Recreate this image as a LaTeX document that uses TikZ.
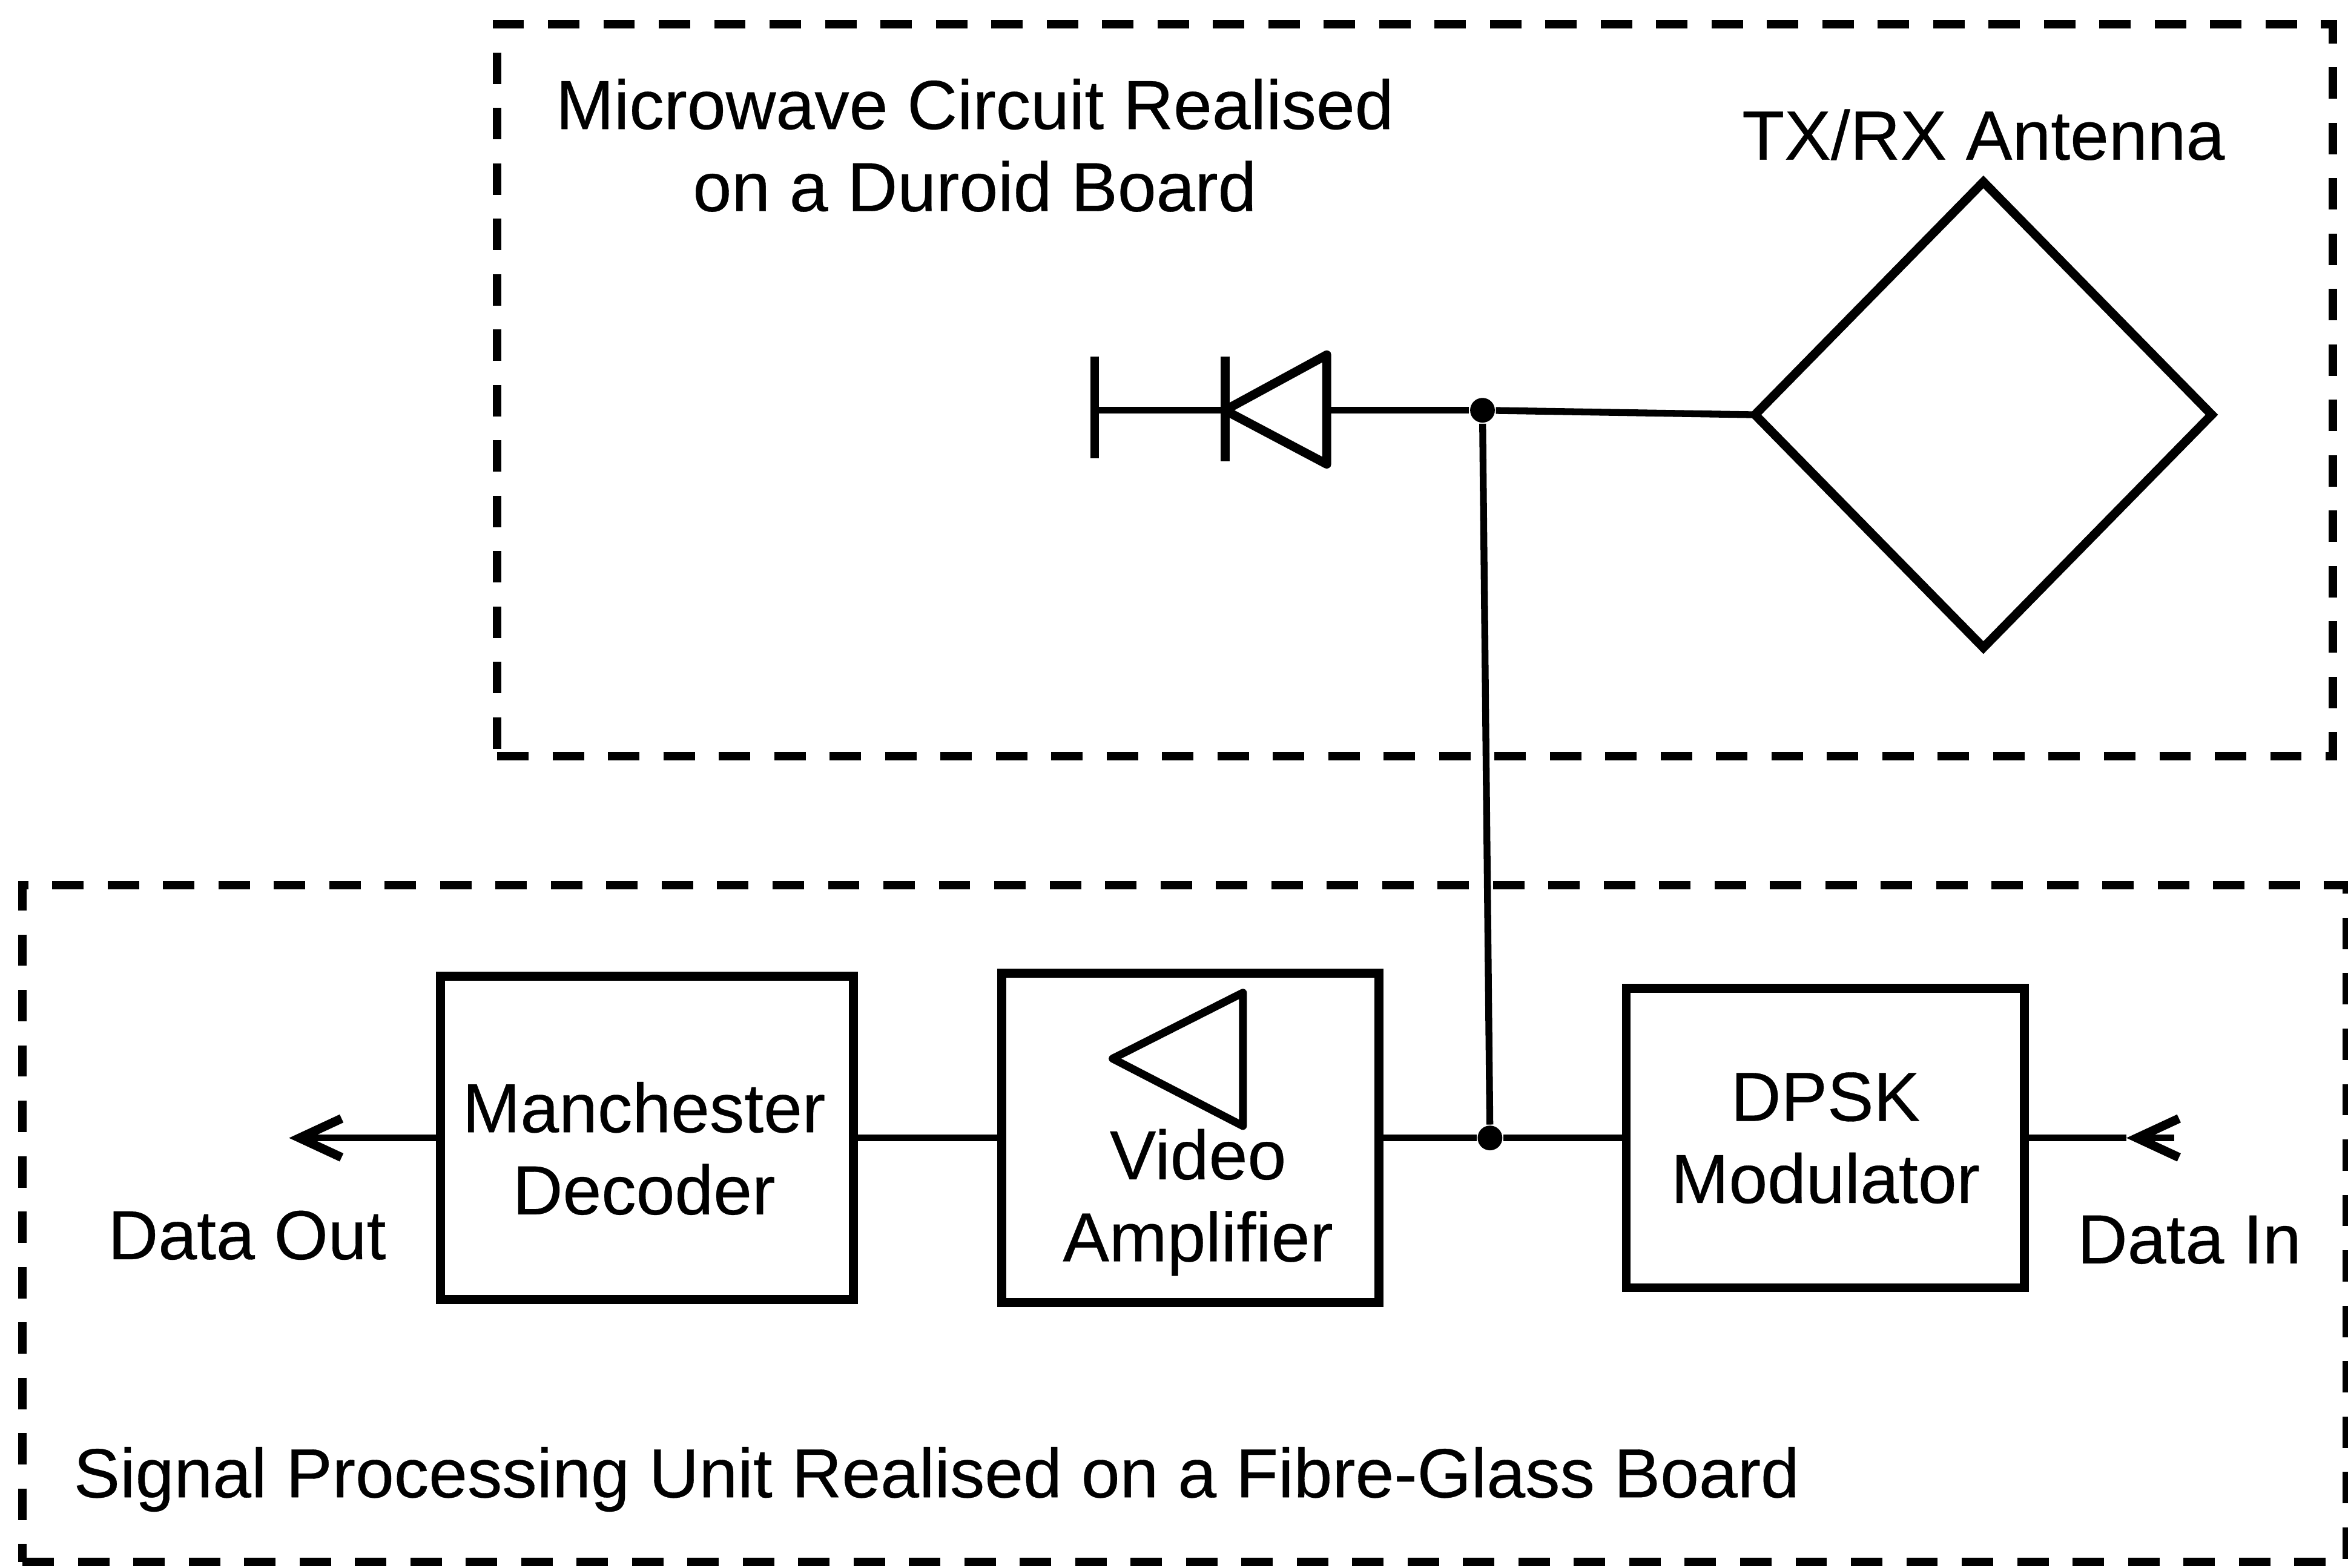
\documentclass[tikz,border=0pt]{standalone}
\usepackage{fontspec}
\setmainfont[FakeBold=0.3]{Liberation Sans}
\usetikzlibrary{shapes.geometric}
\usetikzlibrary{arrows.meta}

\tikzset{
  wire/.style={line width=1.3pt},
  dashbox/.style={draw, rectangle, line width=1.6pt, dash pattern=on 0.21cm off 0.16cm, inner sep=0pt, outer sep=0pt},
  blockbox/.style={draw, rectangle, line width=1.7pt, inner sep=0pt, outer sep=0pt, align=center, font=\fontsize{13.2}{15.6}\selectfont},
  labeltext/.style={inner sep=0pt, align=center, font=\fontsize{13.2}{15.6}\selectfont},
  joindot/.style={circle, fill=black, inner sep=0pt, minimum size=0.165cm},
  barb/.style={-{Straight Barb[length=0.28cm, width=0.26cm, line width=1.7pt]}, line width=1.3pt},
}

\begin{document}
\begin{tikzpicture}
        \useasboundingbox (0, 0) rectangle (15.68, 10.47);

        % Boards
        \node[dashbox, minimum width=12.26cm, minimum height=4.89cm] (duroid) at (9.45, 7.865) {};
        \node[dashbox, minimum width=15.52cm, minimum height=4.52cm] (fibre) at (7.91, 2.30) {};

        % Nodes
        \node[blockbox, minimum width=2.76cm, minimum height=2.16cm] (manch) at (4.32, 2.87) {};
        \node[blockbox, minimum width=2.52cm, minimum height=2.20cm] (video) at (7.95, 2.87) {};
        \node[blockbox, minimum width=2.66cm, minimum height=2.00cm] (dpsk) at (12.19, 2.87) {DPSK\\Modulator};
        \node[diamond, draw, line width=1.7pt, inner sep=0pt, outer sep=0pt, minimum width=3.05cm, minimum height=3.11cm] (antenna) at (13.245, 7.70) {};
        \node[joindot] (topjoin) at (9.90, 7.73) {};
        \node[joindot] (botjoin) at (9.95, 2.87) {};

        % Labels
        \node[labeltext] (microwave) at (6.51, 9.50) {Microwave Circuit Realised\\on a Duroid Board};
        \node[labeltext] (antennatext) at (13.245, 9.57) {TX/RX Antenna};
        \node[labeltext] (manchtext) at (4.30, 2.80) {Manchester\\Decoder};
        \node[labeltext] (videotext) at (8.00, 2.44) {Video\\Amplifier};
        \node[labeltext] (dataouttext) at (1.65, 2.22) {Data Out};
        \node[labeltext] (dataintext) at (14.62, 2.19) {Data In};
        \node[labeltext] (fibretext) at (6.255, 0.59) {Signal Processing Unit Realised on a Fibre-Glass Board};

        % Free ends
        \coordinate (dataout) at (1.93, 2.87);
        \coordinate (datain) at (14.52, 2.87);
        \coordinate (intip) at (14.20, 2.87);
        \coordinate (plate) at (7.31, 7.73);
        \coordinate (diodetip) at (8.18, 7.73);
        \coordinate (diodeback) at (8.86, 7.73);

        % Diode and amplifier symbols
        \draw[line width=1.7pt] (7.31, 8.09) -- (7.31, 7.41);
        \draw[line width=1.7pt] (8.18, 8.09) -- (8.18, 7.39);
        \draw[line width=1.7pt, line join=round] (diodetip) -- (8.86, 8.10) -- (8.86, 7.37) -- cycle;
        \draw[line width=1.5pt, line join=round] (7.43, 3.40) -- (8.30, 3.84) -- (8.30, 2.95) -- cycle;

        % Wires
        \draw[wire] (plate) -- (diodetip);
        \draw[wire] (diodeback) -- (topjoin);
        \draw[wire] (topjoin) -- (antenna.west);
        \draw[wire] (topjoin) -- (botjoin);
        \draw[wire] (manch) -- (video);
        \draw[wire] (video) -- (botjoin);
        \draw[wire] (botjoin) -- (dpsk);

        % Arrows
        \draw[barb] (manch) -- (dataout);
        \draw[wire] (dpsk) -- (intip);
        \draw[barb] (datain) -- (intip);

\end{tikzpicture}
\end{document}
